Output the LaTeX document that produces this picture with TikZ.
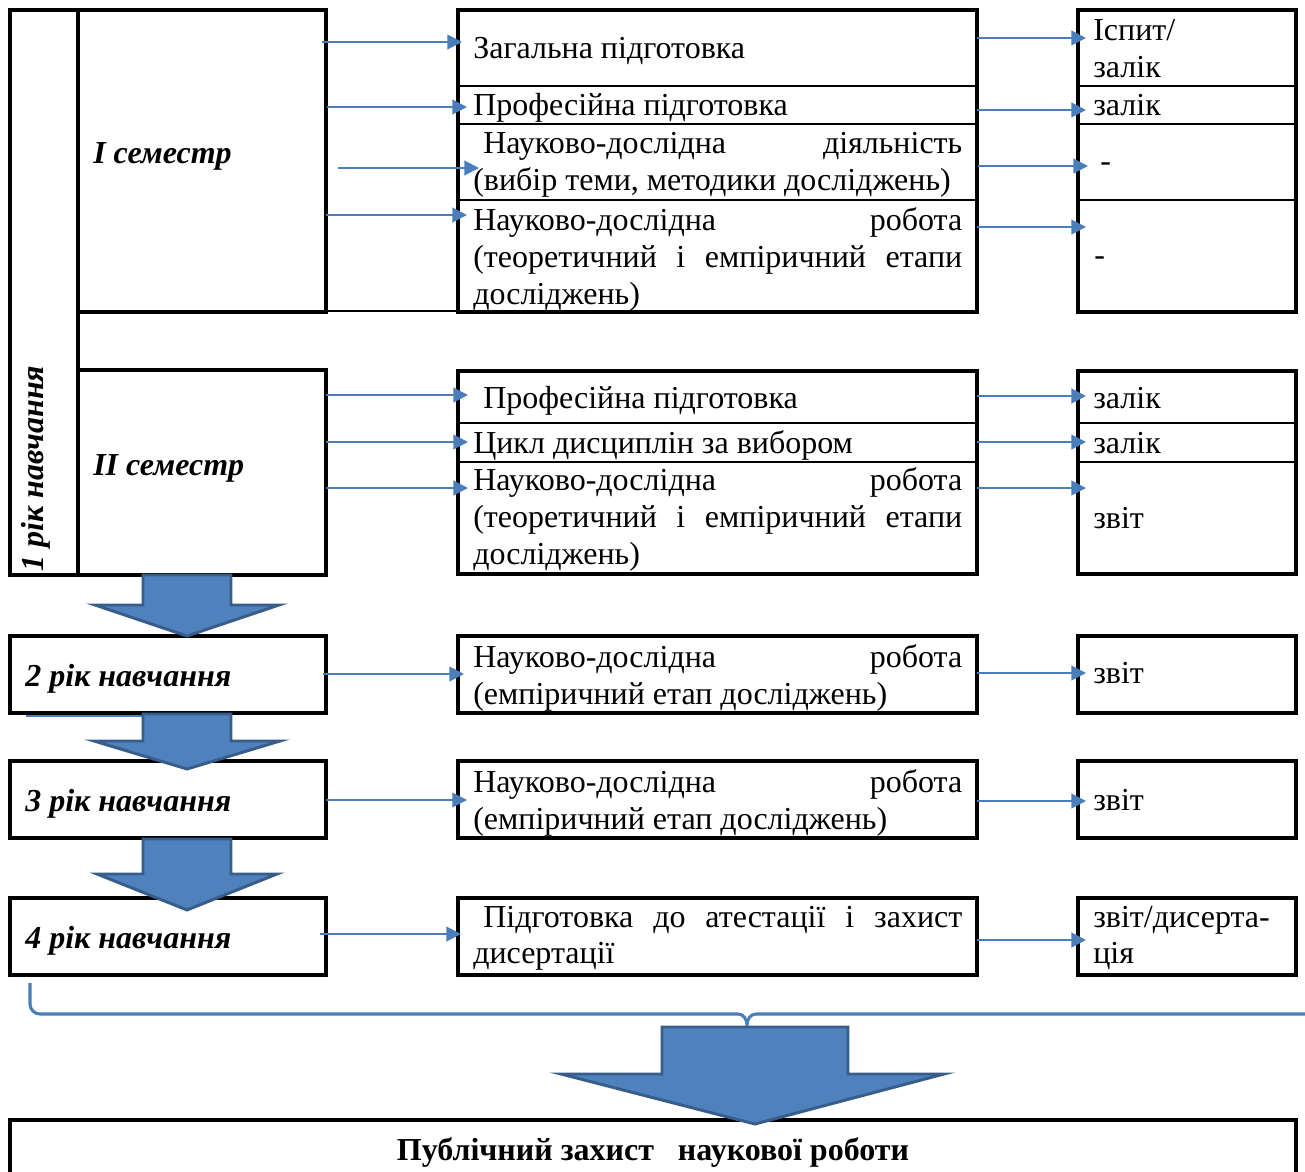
\documentclass[tikz,border=0pt]{standalone}
\usepackage{fontspec}
\setmainfont{Liberation Serif}
\usetikzlibrary{fit,arrows.meta}
\definecolor{connblue}{HTML}{4A7EBB}
\definecolor{bafill}{HTML}{4F81BD}
\definecolor{baline}{HTML}{385D8A}
\newcommand\txtline[4]{\node[txt] (#1) at (#2,#3) {#4};}
\newcommand\labline[4]{\node[lab] (#1) at (#2,#3) {#4};}
\newcommand\connarrow[4]{\coordinate (#1s) at (#2,#4); \coordinate (#1e) at (#3,#4); \draw[conn] (#1s) -- (#1e);}
\newcommand\bigarrow[7]{% shaft l, shaft r, top, head start, head l, head r, tip y
  \draw[bigarr] (#1,#3) -- (#2,#3) -- (#2,#4) -- (#6,#4) -- ({(#1+#2)/2},#7) -- (#5,#4) -- (#1,#4) -- cycle;}
\begin{document}
\begin{tikzpicture}[x=0.75pt,y=-0.75pt,
  box/.style={draw, line width=2.4pt, inner sep=0pt},
  divider/.style={line width=2pt},
  txt/.style={anchor=base west, inner sep=0pt, font=\fontsize{24}{28}\selectfont},
  lab/.style={anchor=base west, inner sep=0pt, font=\fontsize{24}{28}\selectfont\bfseries\itshape},
  conn/.style={connblue, line width=1.5pt, -{Triangle[length=11pt,width=11pt]}},
  bigarr/.style={fill=bafill, draw=baline, line width=2.2pt, line join=miter},
  brace/.style={connblue, line width=2.3pt}]
\useasboundingbox (0,0) rectangle (1305,1171);

% ---------- left column ----------
\node[box, fit={(10,10) (78,575)}] (yr1) {};
\node[box, fit={(78,10) (326,312)}] (sem1) {};
\node[box, fit={(78,370) (326,575)}] (sem2) {};
\draw[line width=1.2pt] (326,311) -- (458,311);
\node[box, fit={(10,636) (326,713)}] (yr2) {};
\node[box, fit={(10,761) (326,838)}] (yr3) {};
\node[box, fit={(10,898) (326,975)}] (yr4) {};

\node[lab, rotate=90] (yr1t) at (43,572) {1 рік навчання};
\labline{sem1t}{93}{163}{I семестр}
\labline{sem2t}{93}{475}{II семестр}
\labline{yr2t}{25}{686}{2 рік навчання}
\labline{yr3t}{25}{811}{3 рік навчання}
\labline{yr4t}{25}{948}{4 рік навчання}

% ---------- middle column ----------
\node[box, fit={(458,10) (977,312)}] (mid1) {};
\draw[divider] (458,86) -- (977,86);
\draw[divider] (458,124) -- (977,124);
\draw[divider] (458,200) -- (977,200);
\node[box, fit={(458,371) (977,574)}] (mid2) {};
\draw[divider] (458,423) -- (977,423);
\draw[divider] (458,462) -- (977,462);
\node[box, fit={(458,636) (977,713)}] (mid3) {};
\node[box, fit={(458,761) (977,838)}] (mid4) {};
\node[box, fit={(458,898) (977,975)}] (mid5) {};

\txtline{m1a}{473}{58}{Загальна підготовка}
\txtline{m1b}{473}{115}{Професійна підготовка}
\txtline{m1c}{483}{153}{\makebox[359.25pt][l]{Науково-дослідна\hfill діяльність}}
\txtline{m1d}{473}{190}{(вибір теми, методики досліджень)}
\txtline{m1e}{473}{230}{\makebox[366.75pt][l]{Науково-дослідна\hfill робота}}
\txtline{m1f}{473}{267}{\makebox[366.75pt][s]{(теоретичний і емпіричний етапи}}
\txtline{m1g}{473}{304}{досліджень)}

\txtline{m2a}{483}{408}{Професійна підготовка}
\txtline{m2b}{473}{453}{Цикл дисциплін за вибором}
\txtline{m2c}{473}{490}{\makebox[366.75pt][l]{Науково-дослідна\hfill робота}}
\txtline{m2d}{473}{527}{\makebox[366.75pt][s]{(теоретичний і емпіричний етапи}}
\txtline{m2e}{473}{564}{досліджень)}

\txtline{m3a}{473}{667}{\makebox[366.75pt][l]{Науково-дослідна\hfill робота}}
\txtline{m3b}{473}{704}{(емпіричний етап досліджень)}
\txtline{m4a}{473}{792}{\makebox[366.75pt][l]{Науково-дослідна\hfill робота}}
\txtline{m4b}{473}{829}{(емпіричний етап досліджень)}
\txtline{m5a}{483}{927}{\makebox[359.25pt][s]{Підготовка до атестації і захист}}
\txtline{m5b}{473}{963}{дисертації}

% ---------- right column ----------
\node[box, fit={(1078,10) (1296,312)}] (rt1) {};
\draw[divider] (1078,86) -- (1296,86);
\draw[divider] (1078,124) -- (1296,124);
\draw[divider] (1078,200) -- (1296,200);
\node[box, fit={(1078,371) (1296,574)}] (rt2) {};
\draw[divider] (1078,423) -- (1296,423);
\draw[divider] (1078,462) -- (1296,462);
\node[box, fit={(1078,636) (1296,713)}] (rt3) {};
\node[box, fit={(1078,761) (1296,838)}] (rt4) {};
\node[box, fit={(1078,898) (1296,975)}] (rt5) {};

\txtline{r1a}{1093}{40}{Іспит/}
\txtline{r1b}{1093}{77}{залік}
\txtline{r1c}{1093}{115}{залік}
\txtline{r1d}{1100}{171}{-}
\txtline{r1e}{1094}{265}{-}
\txtline{r2a}{1093}{408}{залік}
\txtline{r2b}{1093}{453}{залік}
\txtline{r2c}{1093}{528}{звіт}
\txtline{r3a}{1093}{683}{звіт}
\txtline{r4a}{1093}{810}{звіт}
\txtline{r5a}{1093}{927}{звіт/дисерта-}
\txtline{r5b}{1093}{963}{ція}

% ---------- connectors ----------
\connarrow{c1}{322}{462}{42}
\connarrow{c2}{327}{467}{107}
\connarrow{c3}{338}{479}{168}
\connarrow{c4}{326}{467}{215}
\connarrow{d1}{977}{1086}{38}
\connarrow{d2}{977}{1086}{110}
\connarrow{d3}{978}{1088}{166}
\connarrow{d4}{977}{1086}{227}
\connarrow{c5}{326}{468}{395}
\connarrow{c6}{326}{468}{442}
\connarrow{c7}{326}{468}{488}
\connarrow{d5}{977}{1086}{396}
\connarrow{d6}{977}{1086}{442}
\connarrow{d7}{977}{1086}{488}
\connarrow{c8}{323}{464}{674}
\connarrow{d8}{977}{1086}{673}
\connarrow{c9}{326}{467}{800}
\connarrow{d9}{977}{1086}{801}
\connarrow{c10}{320}{461}{934}
\connarrow{d10}{977}{1086}{940}

\draw[connblue, line width=1.2pt] (26,716) -- (145,716);

% ---------- big arrows ----------
\bigarrow{143}{231}{575}{605}{95}{279}{636}
\bigarrow{143}{231}{714}{741}{94}{280}{769}
\bigarrow{143}{231}{839}{874}{97}{277}{910}

% ---------- brace ----------
\draw[brace] (30,983) -- (30,1004) to[out=-90,in=180] (40,1014) -- (738,1014)
  to[out=0,in=90] (747,1025) to[out=90,in=180] (756,1014) -- (1310,1014);

% ---------- final ----------
\node[box, fit={(10,1120) (1296,1200)}] (final) {};
\bigarrow{662}{848}{1027}{1074}{561}{944}{1124}
\node[anchor=base, inner sep=0pt, font=\fontsize{24}{28}\selectfont\bfseries] (finalt) at (653,1160) {Публічний захист\hspace{12pt} наукової роботи};
\end{tikzpicture}
\end{document}
